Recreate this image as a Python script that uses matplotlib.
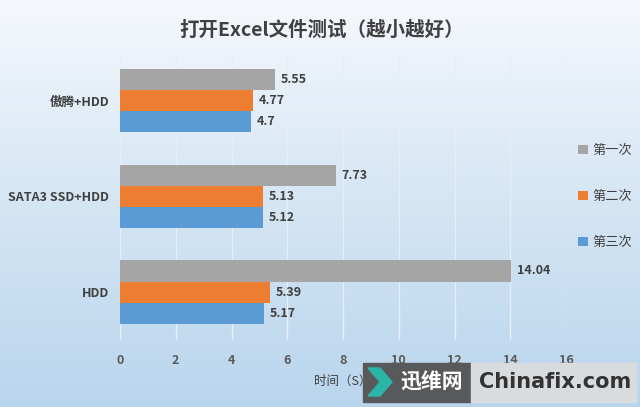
import numpy as np
import matplotlib
matplotlib.use("Agg")
import matplotlib.pyplot as plt
from matplotlib.patches import Rectangle, Polygon

plt.rcParams['font.family'] = ['Noto Sans CJK SC', 'DejaVu Sans']

# data
categories = ["傲腾+HDD", "SATA3 SSD+HDD", "HDD"]
series_names = ["第一次", "第二次", "第三次"]
first_run = [5.55, 7.73, 14.04]
second_run = [4.77, 5.13, 5.39]
third_run = [4.7, 5.12, 5.17]
colors = ["#A5A5A5", "#ED7D31", "#5B9BD5"]


def main():
    fig = plt.figure(figsize=(6.4, 4.07), dpi=100)

    # background gradient
    bg = fig.add_axes([0, 0, 1, 1], zorder=0)
    grad = np.linspace(0, 1, 256).reshape(-1, 1)
    top = np.array([0.965, 0.976, 0.990])
    bottom = np.array([0.725, 0.835, 0.930])
    img = top + (bottom - top) * grad[:, :, None] ** 0.9
    bg.imshow(img, aspect="auto", extent=[0, 1, 0, 1])
    bg.axis("off")

    ax = fig.add_axes([0.1875, 0.165, 0.697, 0.705], zorder=1)
    ax.patch.set_alpha(0)

    y = np.arange(len(categories))
    h = 0.22
    all_series = [first_run, second_run, third_run]
    for i, (vals, name, c) in enumerate(zip(all_series, series_names, colors)):
        pos = y + (i - 1) * h
        bars = ax.barh(pos, vals, height=h, color=c, label=name, zorder=3)
        for b, v in zip(bars, vals):
            ax.text(b.get_width() + 0.2, b.get_y() + b.get_height() / 2, f"{v:g}",
                    va="center", ha="left", fontsize=9, fontweight="bold",
                    color="#404040", zorder=4)

    ax.set_ylim(2.5, -0.5)
    ax.set_xlim(0, 16)
    ax.set_xticks(range(0, 17, 2))
    ax.set_yticks(y)
    ax.set_yticklabels(categories, fontsize=9, fontweight="bold", color="#404040")
    ax.tick_params(axis="x", labelsize=9, colors="#595959", length=0, pad=10)
    ax.tick_params(axis="y", length=0, pad=8)
    for lbl in ax.get_xticklabels():
        lbl.set_fontweight("bold")
    ax.grid(axis="x", color="#E6EEF6", linewidth=1, zorder=0)
    for s in ax.spines.values():
        s.set_visible(False)

    ax.set_xlabel("时间（S）", fontsize=9, color="#404040", labelpad=6)

    leg = fig.legend(loc="upper left", bbox_to_anchor=(0.885, 0.675), frameon=False,
                     fontsize=9.5, handlelength=0.7, handleheight=0.7,
                     handletextpad=0.4, labelspacing=2.5)
    for t in leg.get_texts():
        t.set_color("#404040")

    fig.text(0.503, 0.925, "打开Excel文件测试（越小越好）", ha="center", va="center",
             fontsize=14, fontweight="bold", color="#404040")

    # watermark
    fig.patches.append(Rectangle((363 / 640, 1 - 402 / 407), 108 / 640, 39 / 407,
                                 transform=fig.transFigure, color="#58595B", zorder=5))
    fig.patches.append(Rectangle((471 / 640, 1 - 402 / 407), 165 / 640, 39 / 407,
                                 transform=fig.transFigure, color="#D9DCDF", zorder=5))
    chev = [(368, 368), (380, 368), (392, 382), (380, 396), (368, 396), (380, 382)]
    fig.patches.append(Polygon([(px / 640, 1 - py / 407) for px, py in chev],
                               closed=True, transform=fig.transFigure,
                               color="#2BB5A8", zorder=6))
    fig.text(432 / 640, 1 - 382 / 407, "迅维网", ha="center", va="center",
             fontsize=15, fontweight="bold", color="white", zorder=7)
    fig.text(555 / 640, 1 - 382 / 407, "Chinafix.com", ha="center", va="center",
             fontsize=15, fontweight="bold", color="#333333", zorder=7,
             family="DejaVu Sans")

    fig.savefig("out.png", dpi=100)


if __name__ == "__main__":
    main()
